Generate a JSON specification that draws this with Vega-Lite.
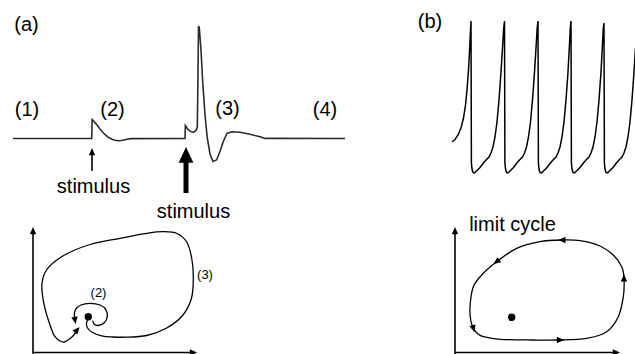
{
  "$schema": "https://vega.github.io/schema/vega-lite/v6.json",
  "width": 635,
  "height": 354,
  "autosize": {"type": "none"},
  "padding": 0,
  "background": "white",
  "config": {"view": {"stroke": null}},
  "encoding": {
    "x": {"field": "x", "type": "quantitative", "scale": {"domain": [0, 635], "nice": false, "zero": false}, "axis": null},
    "y": {"field": "y", "type": "quantitative", "scale": {"domain": [0, 354], "reverse": true, "nice": false, "zero": false}, "axis": null}
  },
  "layer": [
    {
      "data": {"values": [
        {"i": 1, "x": 13, "y": 138.5}, {"i": 2, "x": 91.7, "y": 138.5}, {"i": 3, "x": 92.2, "y": 119.5},
        {"i": 4, "x": 94, "y": 121.5}, {"i": 5, "x": 97, "y": 125}, {"i": 6, "x": 100, "y": 129},
        {"i": 7, "x": 103, "y": 132.5}, {"i": 8, "x": 106, "y": 135.5}, {"i": 9, "x": 109, "y": 137.8},
        {"i": 10, "x": 112, "y": 139.3}, {"i": 11, "x": 115, "y": 140.3}, {"i": 12, "x": 119, "y": 140.7},
        {"i": 13, "x": 123, "y": 140.3}, {"i": 14, "x": 127, "y": 139.3}, {"i": 15, "x": 131, "y": 138.6},
        {"i": 16, "x": 185, "y": 138.5}, {"i": 17, "x": 185.4, "y": 125.5}, {"i": 18, "x": 188, "y": 129.5},
        {"i": 19, "x": 191, "y": 131.8}, {"i": 20, "x": 193.5, "y": 132.2}, {"i": 21, "x": 196, "y": 130.5},
        {"i": 22, "x": 197.3, "y": 127}, {"i": 23, "x": 197.8, "y": 90}, {"i": 24, "x": 198.5, "y": 26},
        {"i": 25, "x": 199.3, "y": 28}, {"i": 26, "x": 201, "y": 50}, {"i": 27, "x": 202.7, "y": 82},
        {"i": 28, "x": 205, "y": 115}, {"i": 29, "x": 207.3, "y": 138}, {"i": 30, "x": 210, "y": 154},
        {"i": 31, "x": 213, "y": 161.5}, {"i": 32, "x": 216.5, "y": 160}, {"i": 33, "x": 220, "y": 151.5},
        {"i": 34, "x": 223.3, "y": 141.5}, {"i": 35, "x": 227, "y": 133.5}, {"i": 36, "x": 231.7, "y": 131.7},
        {"i": 37, "x": 240, "y": 132.3}, {"i": 38, "x": 250, "y": 134.3}, {"i": 39, "x": 260, "y": 136.7},
        {"i": 40, "x": 265, "y": 138.4}, {"i": 41, "x": 345, "y": 138.5}
      ]},
      "mark": {"type": "line", "color": "#2a2a2a", "strokeWidth": 1.6, "interpolate": "linear"},
      "encoding": {"order": {"field": "i", "type": "quantitative"}}
    },
    {
      "data": {"values": [
        {"i": 1, "x": 452, "y": 142}, {"i": 2, "x": 455, "y": 139.5}, {"i": 3, "x": 458, "y": 135},
        {"i": 4, "x": 461, "y": 128}, {"i": 5, "x": 463.5, "y": 118}, {"i": 6, "x": 465.5, "y": 105},
        {"i": 7, "x": 467, "y": 90}, {"i": 8, "x": 468.5, "y": 70}, {"i": 9, "x": 469.7, "y": 48},
        {"i": 10, "x": 470.5, "y": 30}, {"i": 11, "x": 471, "y": 21},
        {"i": 12, "x": 471.4, "y": 163}, {"i": 13, "x": 472, "y": 169}, {"i": 14, "x": 473, "y": 172.5},
        {"i": 15, "x": 474.5, "y": 173}, {"i": 16, "x": 477, "y": 170.5}, {"i": 17, "x": 480, "y": 167.5},
        {"i": 18, "x": 483, "y": 163.5}, {"i": 19, "x": 486, "y": 160}, {"i": 20, "x": 489, "y": 157},
        {"i": 21, "x": 491, "y": 153}, {"i": 22, "x": 493, "y": 147}, {"i": 23, "x": 495, "y": 137},
        {"i": 24, "x": 497, "y": 122}, {"i": 25, "x": 499, "y": 100}, {"i": 26, "x": 501, "y": 72},
        {"i": 27, "x": 502.5, "y": 48}, {"i": 28, "x": 503.7, "y": 28}, {"i": 29, "x": 504.5, "y": 21},
        {"i": 30, "x": 504.9, "y": 163}, {"i": 31, "x": 505.5, "y": 169}, {"i": 32, "x": 506.5, "y": 172.5},
        {"i": 33, "x": 508, "y": 173}, {"i": 34, "x": 510.5, "y": 170.5}, {"i": 35, "x": 513.5, "y": 167.5},
        {"i": 36, "x": 516.5, "y": 163.5}, {"i": 37, "x": 519.5, "y": 160}, {"i": 38, "x": 522.5, "y": 157},
        {"i": 39, "x": 524.5, "y": 153}, {"i": 40, "x": 526.5, "y": 147}, {"i": 41, "x": 528.5, "y": 137},
        {"i": 42, "x": 530.5, "y": 122}, {"i": 43, "x": 532.5, "y": 100}, {"i": 44, "x": 534.5, "y": 72},
        {"i": 45, "x": 536, "y": 48}, {"i": 46, "x": 537.2, "y": 28}, {"i": 47, "x": 538, "y": 21},
        {"i": 48, "x": 538.4, "y": 163}, {"i": 49, "x": 539, "y": 169}, {"i": 50, "x": 540, "y": 172.5},
        {"i": 51, "x": 541.5, "y": 173}, {"i": 52, "x": 544, "y": 170.5}, {"i": 53, "x": 547, "y": 167.5},
        {"i": 54, "x": 550, "y": 163.5}, {"i": 55, "x": 553, "y": 160}, {"i": 56, "x": 556, "y": 157},
        {"i": 57, "x": 558, "y": 153}, {"i": 58, "x": 560, "y": 147}, {"i": 59, "x": 562, "y": 137},
        {"i": 60, "x": 564, "y": 122}, {"i": 61, "x": 566, "y": 100}, {"i": 62, "x": 568, "y": 72},
        {"i": 63, "x": 569.3, "y": 48}, {"i": 64, "x": 570.3, "y": 28}, {"i": 65, "x": 571, "y": 21},
        {"i": 66, "x": 571.4, "y": 163}, {"i": 67, "x": 572, "y": 169}, {"i": 68, "x": 573, "y": 172.5},
        {"i": 69, "x": 574.5, "y": 173}, {"i": 70, "x": 577, "y": 170.5}, {"i": 71, "x": 580, "y": 167.5},
        {"i": 72, "x": 583, "y": 163.5}, {"i": 73, "x": 586, "y": 160}, {"i": 74, "x": 589, "y": 157},
        {"i": 75, "x": 591, "y": 153}, {"i": 76, "x": 593, "y": 147}, {"i": 77, "x": 595, "y": 137},
        {"i": 78, "x": 597, "y": 122}, {"i": 79, "x": 599, "y": 100}, {"i": 80, "x": 601, "y": 72},
        {"i": 81, "x": 602.3, "y": 48}, {"i": 82, "x": 603.3, "y": 28}, {"i": 83, "x": 604, "y": 23},
        {"i": 84, "x": 604.4, "y": 163}, {"i": 85, "x": 605, "y": 169}, {"i": 86, "x": 606, "y": 172.5},
        {"i": 87, "x": 607.5, "y": 173}, {"i": 88, "x": 610, "y": 170.5}, {"i": 89, "x": 613, "y": 167.5},
        {"i": 90, "x": 616, "y": 163.5}, {"i": 91, "x": 619, "y": 160}, {"i": 92, "x": 622, "y": 157},
        {"i": 93, "x": 624, "y": 153}, {"i": 94, "x": 626, "y": 147}, {"i": 95, "x": 628, "y": 137},
        {"i": 96, "x": 630, "y": 122}, {"i": 97, "x": 632, "y": 100}, {"i": 98, "x": 634, "y": 72},
        {"i": 99, "x": 635.5, "y": 48}
      ]},
      "mark": {"type": "line", "color": "black", "strokeWidth": 1.5, "interpolate": "linear", "clip": true},
      "encoding": {"order": {"field": "i", "type": "quantitative"}}
    },
    {
      "data": {"values": [
        {"i": 1, "x": 88, "y": 319}, {"i": 2, "x": 86.5, "y": 323}, {"i": 3, "x": 87.5, "y": 328},
        {"i": 4, "x": 91.7, "y": 332}, {"i": 5, "x": 101.7, "y": 335.8}, {"i": 6, "x": 113, "y": 337},
        {"i": 7, "x": 125, "y": 337.2}, {"i": 8, "x": 146.7, "y": 335.5}, {"i": 9, "x": 166.7, "y": 328},
        {"i": 10, "x": 183, "y": 315}, {"i": 11, "x": 191.5, "y": 298}, {"i": 12, "x": 193.3, "y": 278},
        {"i": 13, "x": 191.7, "y": 258}, {"i": 14, "x": 186.7, "y": 242}, {"i": 15, "x": 177, "y": 233.5},
        {"i": 16, "x": 163.3, "y": 231.7}, {"i": 17, "x": 146.7, "y": 233.3}, {"i": 18, "x": 120, "y": 238.3},
        {"i": 19, "x": 90, "y": 244.5}, {"i": 20, "x": 62, "y": 256.5}, {"i": 21, "x": 46.5, "y": 270},
        {"i": 22, "x": 42, "y": 283.3}, {"i": 23, "x": 43.5, "y": 301.7}, {"i": 24, "x": 50, "y": 325},
        {"i": 25, "x": 55, "y": 336.7}, {"i": 26, "x": 60, "y": 341}, {"i": 27, "x": 64, "y": 342},
        {"i": 28, "x": 68, "y": 340}, {"i": 29, "x": 72, "y": 337}, {"i": 30, "x": 76, "y": 332}
      ]},
      "mark": {"type": "line", "color": "black", "strokeWidth": 1.3, "interpolate": "catmull-rom"},
      "encoding": {"order": {"field": "i", "type": "quantitative"}}
    },
    {
      "data": {"values": [
        {"i": 1, "x": 92.7, "y": 320.7}, {"i": 2, "x": 94.3, "y": 324.3}, {"i": 3, "x": 98.3, "y": 325.5},
        {"i": 4, "x": 104.3, "y": 322.7}, {"i": 5, "x": 107.3, "y": 316.7}, {"i": 6, "x": 105.7, "y": 309.3},
        {"i": 7, "x": 100, "y": 305}, {"i": 8, "x": 90, "y": 303.3}, {"i": 9, "x": 81, "y": 305},
        {"i": 10, "x": 75.7, "y": 309.3}, {"i": 11, "x": 74.3, "y": 315}, {"i": 12, "x": 75, "y": 319}
      ]},
      "mark": {"type": "line", "color": "black", "strokeWidth": 1.3, "interpolate": "catmull-rom"},
      "encoding": {"order": {"field": "i", "type": "quantitative"}}
    },
    {
      "data": {"values": [
        {"i": 1, "x": 470, "y": 306.7}, {"i": 2, "x": 470.7, "y": 320}, {"i": 3, "x": 473.3, "y": 328.3},
        {"i": 4, "x": 478, "y": 334}, {"i": 5, "x": 483.3, "y": 336.7}, {"i": 6, "x": 500, "y": 339.3},
        {"i": 7, "x": 533, "y": 340}, {"i": 8, "x": 560, "y": 340}, {"i": 9, "x": 586.7, "y": 338.3},
        {"i": 10, "x": 606.7, "y": 331.7}, {"i": 11, "x": 618.3, "y": 316.7}, {"i": 12, "x": 623.3, "y": 296.7},
        {"i": 13, "x": 624, "y": 278.3}, {"i": 14, "x": 621.7, "y": 266.7}, {"i": 15, "x": 613.3, "y": 255},
        {"i": 16, "x": 600, "y": 246}, {"i": 17, "x": 580, "y": 240.7}, {"i": 18, "x": 562.3, "y": 240},
        {"i": 19, "x": 540, "y": 241.7}, {"i": 20, "x": 516.7, "y": 248.3}, {"i": 21, "x": 496.7, "y": 261.7},
        {"i": 22, "x": 483.3, "y": 273.3}, {"i": 23, "x": 473.3, "y": 286.7}
      ]},
      "mark": {"type": "line", "color": "black", "strokeWidth": 1.3, "interpolate": "cardinal-closed", "tension": 0},
      "encoding": {"order": {"field": "i", "type": "quantitative"}}
    },
    {
      "data": {"values": [
        {"x": 33, "y": 231, "x2": 33, "y2": 354},
        {"x": 33, "y": 352.5, "x2": 193, "y2": 352.5},
        {"x": 455, "y": 231, "x2": 455, "y2": 354},
        {"x": 455, "y": 352.5, "x2": 616, "y2": 352.5},
        {"x": 92, "y": 154, "x2": 92, "y2": 171}
      ]},
      "mark": {"type": "rule", "color": "black", "strokeWidth": 1.6},
      "encoding": {"x2": {"field": "x2"}, "y2": {"field": "y2"}}
    },
    {
      "data": {"values": [{"x": 186, "y": 160, "x2": 186, "y2": 193}]},
      "mark": {"type": "rule", "color": "black", "strokeWidth": 5},
      "encoding": {"x2": {"field": "x2"}, "y2": {"field": "y2"}}
    },
    {
      "data": {"values": [
        {"x": 33, "y": 231, "dir": 0}, {"x": 193, "y": 352.5, "dir": 90},
        {"x": 455, "y": 231, "dir": 0}, {"x": 616, "y": 352.5, "dir": 90},
        {"x": 92, "y": 152, "dir": 0},
        {"x": 77, "y": 330, "dir": 40}, {"x": 75, "y": 320, "dir": 170},
        {"x": 473.3, "y": 328.3, "dir": 165}, {"x": 560, "y": 340, "dir": 90},
        {"x": 624, "y": 278.3, "dir": 0}, {"x": 562.3, "y": 240, "dir": 270},
        {"x": 496.7, "y": 261.7, "dir": 233}
      ]},
      "mark": {"type": "point", "shape": "M0,-1L0.8,0.8L-0.8,0.8Z", "filled": true, "color": "black", "opacity": 1, "size": 64, "strokeWidth": 0},
      "encoding": {"angle": {"field": "dir", "type": "quantitative", "scale": null}}
    },
    {
      "data": {"values": [{"x": 186, "y": 155.7}]},
      "mark": {"type": "point", "shape": "M0,-1L0.85,0.8L-0.85,0.8Z", "filled": true, "color": "black", "opacity": 1, "size": 300, "strokeWidth": 0}
    },
    {
      "data": {"values": [{"x": 88.3, "y": 316.7}, {"x": 511.7, "y": 317.3}]},
      "mark": {"type": "point", "shape": "circle", "filled": true, "color": "black", "opacity": 1, "size": 55, "strokeWidth": 0}
    },
    {
      "data": {"values": [
        {"label": "(a)", "x": 26.5, "y": 31},
        {"label": "(b)", "x": 430, "y": 28},
        {"label": "(1)", "x": 27, "y": 116},
        {"label": "(2)", "x": 112.5, "y": 116},
        {"label": "(3)", "x": 227.5, "y": 115},
        {"label": "(4)", "x": 325, "y": 116},
        {"label": "stimulus", "x": 93.5, "y": 193},
        {"label": "stimulus", "x": 193.5, "y": 218},
        {"label": "limit cycle", "x": 512.5, "y": 231}
      ]},
      "mark": {"type": "text", "font": "Liberation Sans", "fontSize": 20, "align": "center", "baseline": "alphabetic", "color": "black"},
      "encoding": {"text": {"field": "label"}}
    },
    {
      "data": {"values": [
        {"label": "(3)", "x": 205, "y": 279},
        {"label": "(2)", "x": 98.5, "y": 297}
      ]},
      "mark": {"type": "text", "font": "Liberation Sans", "fontSize": 13, "align": "center", "baseline": "alphabetic", "color": "black"},
      "encoding": {"text": {"field": "label"}}
    }
  ]
}
